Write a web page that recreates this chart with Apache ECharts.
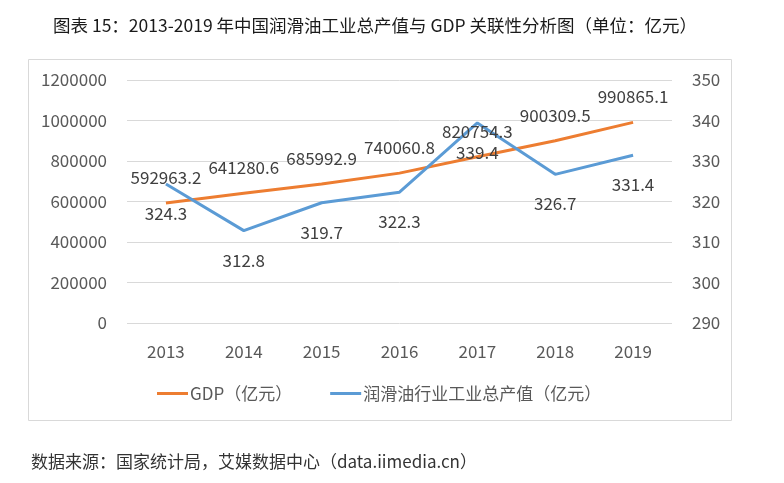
<!DOCTYPE html>
<html><head><meta charset="utf-8">
<script src="https://cdn.jsdelivr.net/npm/echarts@6/dist/echarts.min.js"></script>
<style>html,body{margin:0;padding:0;background:#fff}#c{width:784px;height:483px}</style>
</head><body><div id="c"></div>
<script>
const years = ['2013','2014','2015','2016','2017','2018','2019'];
const gdp = [592963.2, 641280.6, 685992.9, 740060.8, 820754.3, 900309.5, 990865.1];
const lube = [324.3, 312.8, 319.7, 322.3, 339.4, 326.7, 331.4];
const seriesNames = ['GDP（亿元）', '润滑油行业工业总产值（亿元）'];
const titleText = '图表 15：2013-2019 年中国润滑油工业总产值与 GDP 关联性分析图（单位：亿元）';
const sourceText = '数据来源：国家统计局，艾媒数据中心（data.iimedia.cn）';

const font = '"Noto Sans CJK SC", "Noto Sans", sans-serif';
const chart = echarts.init(document.getElementById('c'));
chart.setOption({
  animation: false,
  textStyle: {fontFamily: font},
  title: [
    {text: titleText, left: 48, top: 12, textStyle: {fontFamily: font, fontSize: 17.5, fontWeight: 'normal', color: '#1a1a1a'}},
    {text: sourceText, left: 26, top: 448, textStyle: {fontFamily: font, fontSize: 17, fontWeight: 'normal', color: '#333'}}
  ],
  graphic: [{type: 'rect', shape: {x: 28.5, y: 59.5, width: 703, height: 361}, style: {fill: 'none', stroke: '#d9d9d9', lineWidth: 1}, silent: true}],
  grid: {left: 127, right: 112, top: 80, bottom: 160},
  legend: {
    top: 380, left: 152, itemWidth: 31, itemHeight: 3, itemGap: 38, icon: 'rect',
    textStyle: {fontFamily: font, fontSize: 17, color: '#595959', padding: [0,0,0,-3]},
    data: seriesNames
  },
  xAxis: {
    type: 'category', data: years, boundaryGap: true,
    axisLine: {show: false}, axisTick: {show: false},
    axisLabel: {fontSize: 17, color: '#595959', margin: 20}
  },
  yAxis: [
    {type: 'value', min: 0, max: 1200000, interval: 200000,
     axisLine: {show: false}, axisTick: {show: false},
     axisLabel: {fontSize: 17, color: '#595959', margin: 20, formatter: v => String(v)},
     splitLine: {lineStyle: {color: '#d9d9d9', width: 1}}},
    {type: 'value', min: 290, max: 350, interval: 10,
     axisLine: {show: false}, axisTick: {show: false},
     axisLabel: {fontSize: 17, color: '#595959', margin: 20},
     splitLine: {show: false}}
  ],
  series: [
    {name: seriesNames[0], type: 'line', data: gdp, yAxisIndex: 0, symbol: 'circle', symbolSize: 0, showSymbol: true,
     lineStyle: {color: '#ED7D31', width: 3}, itemStyle: {color: '#ED7D31'},
     label: {show: true, position: 'top', distance: 17, fontSize: 17, color: '#404040', formatter: p => p.value.toFixed(1)}},
    {name: seriesNames[1], type: 'line', data: lube, yAxisIndex: 1, symbol: 'circle', symbolSize: 0, showSymbol: true,
     lineStyle: {color: '#5B9BD5', width: 3}, itemStyle: {color: '#5B9BD5'},
     label: {show: true, position: 'bottom', distance: 21, fontSize: 17, color: '#404040', formatter: p => p.value.toFixed(1)}}
  ]
});
</script></body></html>
